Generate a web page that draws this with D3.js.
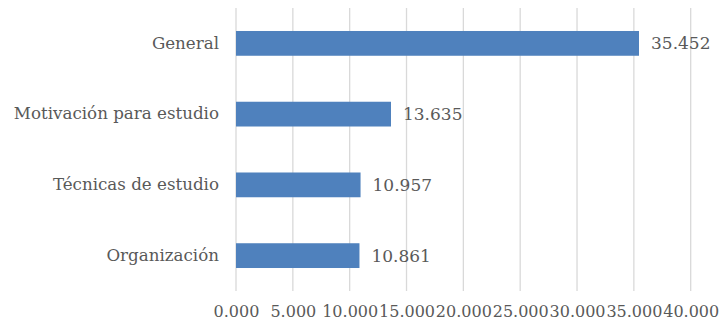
<!DOCTYPE html>
<html>
<head>
<meta charset="utf-8">
<script src="https://cdn.jsdelivr.net/npm/d3@7"></script>
<style>
  body { margin: 0; background: #fff; }
  text { font-family: "DejaVu Serif", serif; fill: #595959; }
</style>
</head>
<body>
<div id="chart"></div>
<script>
// data
const categories = ["General", "Motivación para estudio", "Técnicas de estudio", "Organización"];
const values = [35.452, 13.635, 10.957, 10.861];
const xTicks = [0, 5, 10, 15, 20, 25, 30, 35, 40];

const width = 721, height = 326;
const margin = { top: 8, right: 30, bottom: 35, left: 236 };
const innerW = 690.7 - margin.left;
const innerH = 291 - margin.top;

const fmt = d => d3.format(".3f")(d);

const svg = d3.select("#chart").append("svg")
  .attr("width", width)
  .attr("height", height);

const g = svg.append("g")
  .attr("transform", "translate(" + margin.left + "," + margin.top + ")");

const x = d3.scaleLinear().domain([0, 40]).range([0, innerW]);
const y = d3.scaleBand().domain(categories).range([0, innerH]).paddingInner(0.65).paddingOuter(0.325);

// gridlines
g.append("g")
  .selectAll("line")
  .data(xTicks)
  .join("line")
  .attr("x1", d => x(d)).attr("x2", d => x(d))
  .attr("y1", 0).attr("y2", innerH)
  .attr("stroke", "#d9d9d9")
  .attr("stroke-width", 1.3);

// x axis labels
g.append("g")
  .attr("transform", "translate(0," + innerH + ")")
  .call(d3.axisBottom(x).tickValues(xTicks).tickFormat(fmt).tickSize(0).tickPadding(13))
  .call(a => a.select(".domain").remove())
  .call(a => a.selectAll("text").attr("font-size", 16).attr("fill", "#595959").attr("font-family", "DejaVu Serif").attr("dy", "0.8em"));

// y axis labels
g.append("g")
  .call(d3.axisLeft(y).tickSize(0).tickPadding(17))
  .call(a => a.select(".domain").remove())
  .call(a => a.selectAll("text").attr("font-size", 16.7).attr("fill", "#595959").attr("font-family", "DejaVu Serif"));

// bars
g.append("g")
  .selectAll("rect")
  .data(values)
  .join("rect")
  .attr("x", x(0))
  .attr("y", (d, i) => y(categories[i]))
  .attr("width", d => x(d))
  .attr("height", y.bandwidth())
  .attr("fill", "#4f81bd");

// value labels
g.append("g")
  .selectAll("text")
  .data(values)
  .join("text")
  .attr("x", d => x(d) + 12)
  .attr("y", (d, i) => y(categories[i]) + y.bandwidth() / 2)
  .attr("dy", "0.35em")
  .attr("font-size", 17)
  .text(d => fmt(d));
</script>
</body>
</html>
